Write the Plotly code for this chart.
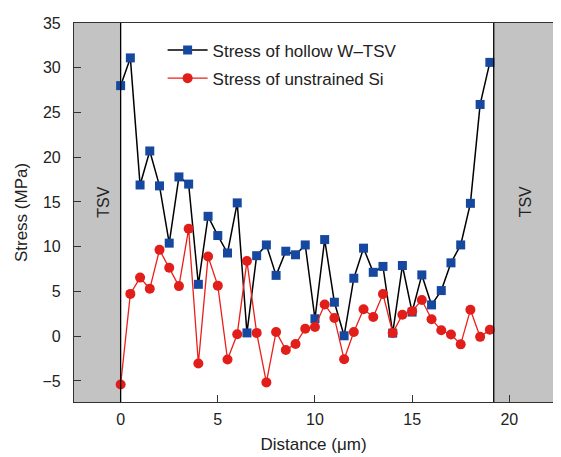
import plotly.graph_objects as go

distance = [i * 0.5 for i in range(39)]
stress_hollow = [28.0, 31.1, 16.9, 20.7, 16.8, 10.4, 17.8, 17.0, 5.8, 13.4,
                 11.25, 9.3, 14.9, 0.37, 9.0, 10.2, 6.8, 9.5, 9.1, 10.2,
                 1.95, 10.8, 3.8, 0.05, 6.48, 9.84, 7.14, 7.8, 0.35, 7.9,
                 2.7, 6.85, 3.5, 5.1, 8.2, 10.2, 14.85, 25.9, 30.6]
stress_si = [-5.4, 4.73, 6.55, 5.3, 9.65, 7.65, 5.6, 12.0, -3.05, 8.9,
             5.65, -2.6, 0.22, 8.4, 0.37, -5.16, 0.48, -1.53, -0.87, 0.84,
             1.03, 3.54, 2.04, -2.58, 0.48, 3.02, 2.15, 4.72, 0.37, 2.4,
             2.8, 4.04, 1.9, 0.66, 0.19, -0.91, 2.95, -0.07, 0.73]

x_range = [-2.4, 22.25]
y_range = [-7.35, 35]
tsv_edges = [0, 19.2]
tsv_label_x = [-0.87, 20.88]
tsv_label_y = 15
x_ticks = [0, 5, 10, 15, 20]
y_ticks = [-5, 0, 5, 10, 15, 20, 25, 30, 35]

FONT = "Liberation Sans, Arial, sans-serif"
GRAY = "rgb(195,195,195)"

fig = go.Figure()
fig.add_trace(go.Scatter(
    x=distance, y=stress_hollow, mode="lines+markers",
    name="Stress of hollow W\u2013TSV", legendgroup="a",
    line=dict(color="black", width=1.5),
    marker=dict(symbol="square", size=9, color="rgb(22,72,160)"),
    cliponaxis=False,
))
fig.add_trace(go.Scatter(
    x=distance, y=stress_si, mode="lines+markers",
    name="Stress of unstrained Si", legendgroup="b",
    line=dict(color="rgb(235,30,25)", width=1.3),
    marker=dict(symbol="circle", size=10, color="rgb(225,30,25)"),
    cliponaxis=False,
))

shapes = [
    dict(type="rect", xref="x", yref="paper", x0=x_range[0], x1=tsv_edges[0],
         y0=0, y1=1, fillcolor=GRAY, line=dict(width=0), layer="below"),
    dict(type="rect", xref="x", yref="paper", x0=tsv_edges[1], x1=x_range[1],
         y0=0, y1=1, fillcolor=GRAY, line=dict(width=0), layer="below"),
    dict(type="line", xref="x", yref="paper", x0=tsv_edges[0], x1=tsv_edges[0],
         y0=0, y1=1, line=dict(color="black", width=1.3)),
    dict(type="line", xref="x", yref="paper", x0=tsv_edges[1], x1=tsv_edges[1],
         y0=0, y1=1, line=dict(color="black", width=1.3)),
]
annotations = [
    dict(x=tx, y=tsv_label_y, xref="x", yref="y", text="TSV", showarrow=False,
         textangle=-90, font=dict(family=FONT, size=16, color="#222"))
    for tx in tsv_label_x
]

axis_common = dict(
    showline=True, mirror=True, linecolor="#333", linewidth=1.2,
    ticks="inside", ticklen=7, tickwidth=1, tickcolor="#333",
    showgrid=False, zeroline=False,
    tickfont=dict(family=FONT, size=16, color="#222"),
)

# the page body adds an 8px offset; size and margins compensate for it
fig.update_layout(
    width=553, height=449,
    margin=dict(l=66, r=7, t=11, b=52),
    paper_bgcolor="white", plot_bgcolor="white",
    shapes=shapes, annotations=annotations,
    xaxis=dict(range=x_range, tickvals=x_ticks, ticklabelstandoff=3,
               title=dict(text="Distance (\u03bcm)", standoff=10,
                          font=dict(family=FONT, size=17, color="#222")),
               **axis_common),
    yaxis=dict(range=y_range, tickvals=y_ticks, ticklabelstandoff=9,
               title=dict(text="Stress (MPa)", standoff=10,
                          font=dict(family=FONT, size=17, color="#222")),
               **axis_common),
    legend=dict(x=0.185, y=0.975, xanchor="left", yanchor="top",
                bgcolor="rgba(0,0,0,0)", itemwidth=40,
                traceorder="grouped", tracegroupgap=3,
                font=dict(family=FONT, size=17, color="#222")),
    font=dict(family=FONT),
)

fig.write_html("out.html")
